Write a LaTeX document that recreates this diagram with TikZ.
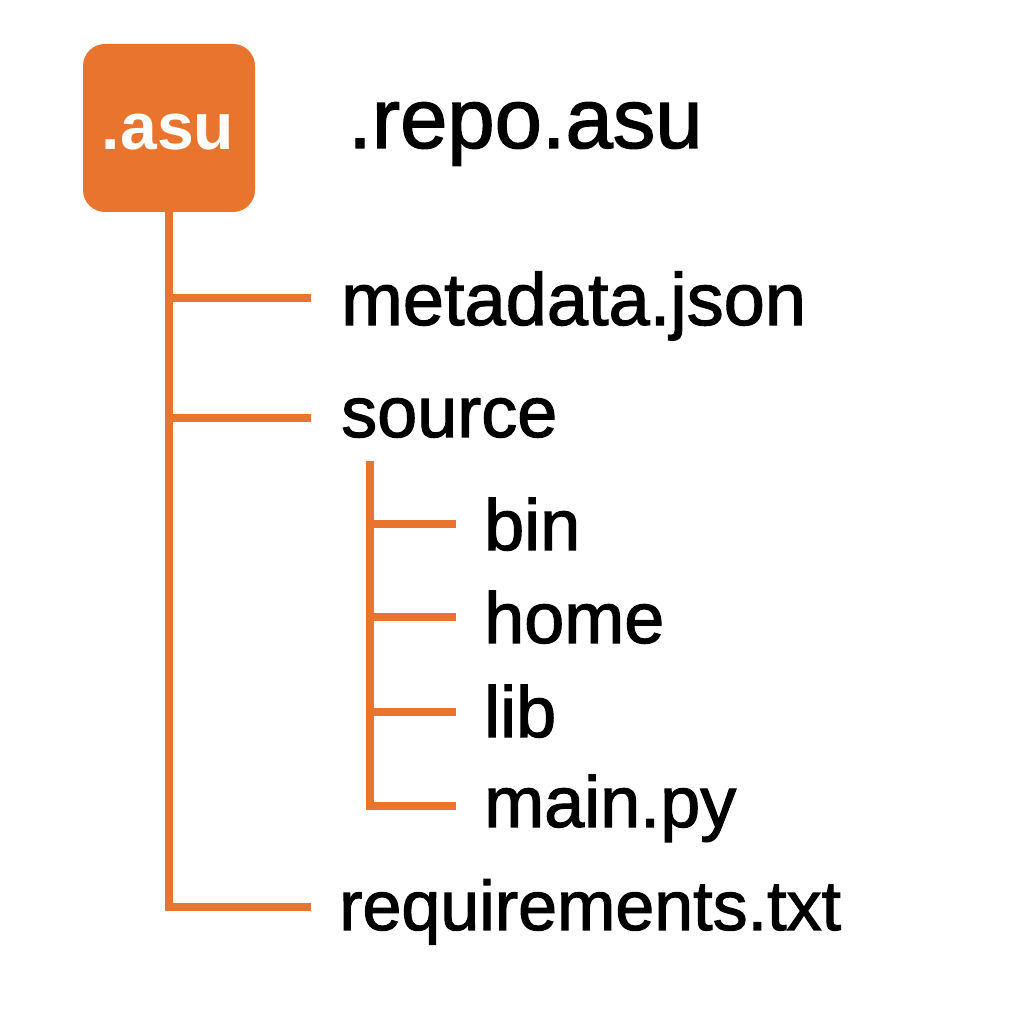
\documentclass[tikz,border=0pt]{standalone}
\usepackage{fontspec}
\setmainfont{Liberation Sans}
\newfontfamily\medfont{Liberation Sans}[FakeBold=1.6]
\definecolor{asuorange}{RGB}{232,116,46}
\begin{document}
\begin{tikzpicture}[x=1pt,y=1pt,
  branch/.style={draw=asuorange, line width=8pt},
  item/.style={anchor=base west, inner sep=0pt, font=\medfont\fontsize{72}{86}\selectfont},
]
\useasboundingbox (0,0) rectangle (1024,1024);
\node[fill=asuorange, rounded corners=22pt, minimum width=172pt, minimum height=168pt, inner sep=0pt] (root) at (169,896) {};
\node[anchor=base, text=white, inner sep=0pt, font=\fontsize{66}{80}\selectfont\bfseries] (rootlabel) at (168,874) {.asu};
\node[anchor=base west, inner sep=0pt, font=\medfont\fontsize{85}{100}\selectfont] (title) at (348,876) {.repo.asu};
% items
\node[item, font=\medfont\fontsize{74}{88}\selectfont] (meta) at (341,699) {metadata.json};
\node[item] (src) at (341,587) {source};
\node[item] (bin) at (484,474) {bin};
\node[item] (home) at (484,381) {home};
\node[item] (lib) at (484,287) {lib};
\node[item] (mainpy) at (484,197) {main.py};
\node[item, font=\medfont\fontsize{70}{84}\selectfont] (req) at (339,94) {requirements.txt};
% connector coordinates
\coordinate (j1) at (169,726); \coordinate (e1) at (311,726);
\coordinate (j2) at (169,606); \coordinate (e2) at (311,606);
\coordinate (j3) at (169,117); \coordinate (e3) at (311,117);
\coordinate (s0) at (370,563);
\coordinate (s1) at (370,500); \coordinate (t1) at (456,500);
\coordinate (s2) at (370,407); \coordinate (t2) at (456,407);
\coordinate (s3) at (370,312); \coordinate (t3) at (456,312);
\coordinate (s4) at (370,218); \coordinate (t4) at (456,218);
\draw[branch] (root.south) -- (j3) -- (e3);
\draw[branch] (j1) -- (e1);
\draw[branch] (j2) -- (e2);
\draw[branch] (s0) -- (s4) -- (t4);
\draw[branch] (s1) -- (t1);
\draw[branch] (s2) -- (t2);
\draw[branch] (s3) -- (t3);
\end{tikzpicture}
\end{document}
